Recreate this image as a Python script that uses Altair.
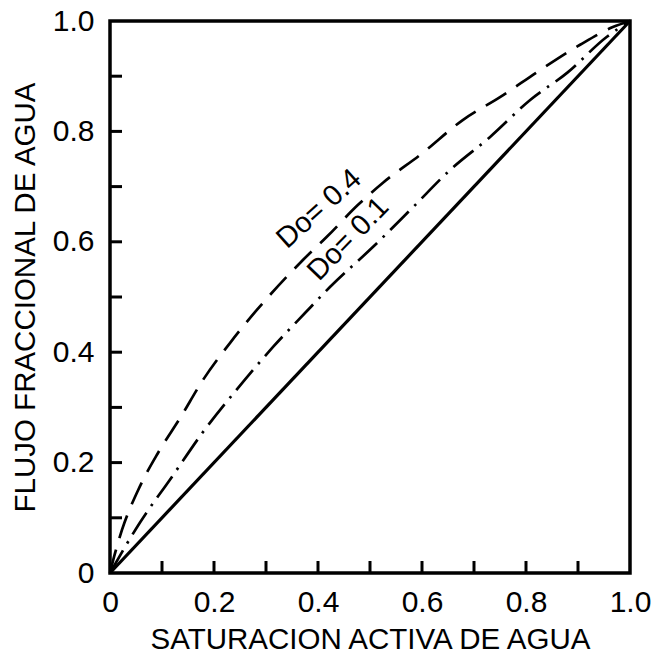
import altair as alt
import pandas as pd

# Dashed curve, Do = 0.4
x_d04 = [0.0, 0.008, 0.023, 0.054, 0.092, 0.135, 0.179, 0.231, 0.282, 0.371, 0.417, 0.477, 0.525, 0.60, 0.679, 0.75, 0.827, 0.904, 0.967, 1.0]
y_d04 = [0.0, 0.03, 0.078, 0.150, 0.217, 0.281, 0.350, 0.417, 0.476, 0.567, 0.609, 0.667, 0.707, 0.760, 0.821, 0.862, 0.911, 0.957, 0.989, 1.0]

# Dash-dot curve, Do = 0.1
x_d01 = [0.0, 0.058, 0.119, 0.177, 0.246, 0.314, 0.375, 0.423, 0.506, 0.583, 0.654, 0.731, 0.808, 0.879, 0.955, 1.0]
y_d01 = [0.0, 0.092, 0.174, 0.253, 0.335, 0.41, 0.471, 0.518, 0.591, 0.663, 0.730, 0.790, 0.857, 0.906, 0.971, 1.0]

# Solid curve
x_sol = [0.0, 1.0]
y_sol = [0.0, 1.0]

# Axes
tick_labels = [0.0, 0.2, 0.4, 0.6, 0.8, 1.0]
minor_ticks = [0.1, 0.2, 0.3, 0.4, 0.5, 0.6, 0.7, 0.8, 0.9]

# Curve annotations
ann_text = ["Do= 0.4", "Do= 0.1"]
ann_x = [0.402, 0.458]
ann_y = [0.660, 0.605]
ann_angle = [318, 314]

W, H = 520, 552
FONT = "Liberation Sans"

xscale = alt.Scale(domain=[0, 1], nice=False, zero=False)
yscale = alt.Scale(domain=[0, 1], nice=False, zero=False)

label_expr = "datum.value == 0 ? '0' : format(datum.value, '.1f')"

xaxis = alt.Axis(values=tick_labels, labelExpr=label_expr, ticks=False, domain=False,
                 grid=False, labelPadding=14, labelFontSize=30, labelFont=FONT,
                 labelColor="black", title="SATURACION ACTIVA DE AGUA", titleFont=FONT,
                 titleFontSize=29.5, titleFontWeight="normal", titleColor="black",
                 titlePadding=8, labelFlush=False)
yaxis = alt.Axis(values=tick_labels, labelExpr=label_expr, ticks=False, domain=False,
                 grid=False, labelPadding=16, labelFontSize=30, labelFont=FONT,
                 labelColor="black", title="FLUJO FRACCIONAL DE AGUA", titleFont=FONT,
                 titleFontSize=29.5, titleFontWeight="normal", titleColor="black",
                 titlePadding=12, labelFlush=False)

df04 = pd.DataFrame({"x": x_d04, "y": y_d04})
df01 = pd.DataFrame({"x": x_d01, "y": y_d01})
dfs = pd.DataFrame({"x": x_sol, "y": y_sol})

base_sol = alt.Chart(dfs).mark_line(color="black", strokeWidth=3.2).encode(
    x=alt.X("x:Q", scale=xscale, axis=xaxis),
    y=alt.Y("y:Q", scale=yscale, axis=yaxis),
)
line04 = alt.Chart(df04).mark_line(color="black", strokeWidth=2.7, strokeDash=[24, 12],
                                   interpolate="monotone").encode(
    x=alt.X("x:Q", scale=xscale), y=alt.Y("y:Q", scale=yscale))
line01 = alt.Chart(df01).mark_line(color="black", strokeWidth=2.7, strokeDash=[26, 8, 2.5, 8],
                                   interpolate="monotone").encode(
    x=alt.X("x:Q", scale=xscale), y=alt.Y("y:Q", scale=yscale))

xt = alt.Chart(pd.DataFrame({"t": minor_ticks})).mark_rule(color="black", strokeWidth=3).encode(
    x=alt.X("t:Q", scale=xscale), y=alt.value(H), y2=alt.value(H - 12))
yt = alt.Chart(pd.DataFrame({"t": minor_ticks})).mark_rule(color="black", strokeWidth=3).encode(
    y=alt.Y("t:Q", scale=yscale), x=alt.value(0), x2=alt.value(12))

ann = alt.Chart(pd.DataFrame({"txt": ann_text, "x": ann_x, "y": ann_y, "a": ann_angle})).mark_text(
    font=FONT, fontSize=29, color="black").encode(
    x=alt.X("x:Q", scale=xscale), y=alt.Y("y:Q", scale=yscale), text="txt:N",
    angle=alt.Angle("a:Q", scale=None))

chart = alt.layer(base_sol, line04, line01, xt, yt, ann).properties(
    width=W, height=H,
    background="white",
    autosize=alt.AutoSizeParams(type="none"),
    padding={"left": 110, "top": 21, "right": 25, "bottom": 84},
).configure_view(stroke="black", strokeWidth=3.5)

chart.save("out.html", embed_options={"renderer": "svg", "actions": False})
